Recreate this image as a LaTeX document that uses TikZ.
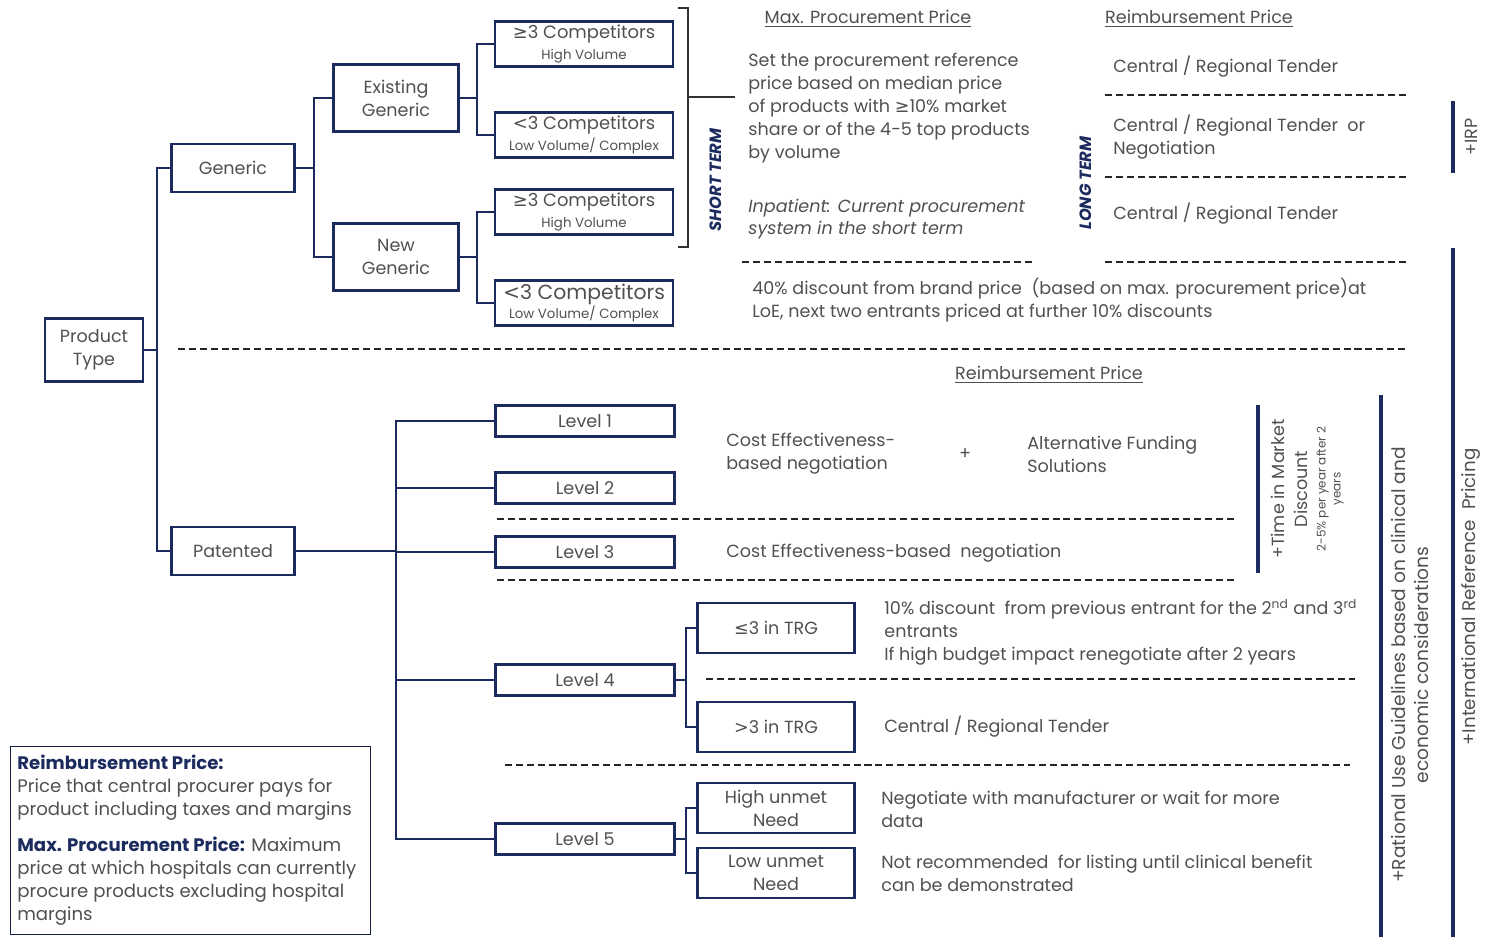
\documentclass[tikz,border=0pt]{standalone}
\usepackage{fontspec}
\setmainfont{Poppins}
\newfontfamily\symfont{DejaVu Sans}
\usetikzlibrary{positioning}
\definecolor{navy}{HTML}{1C2B5E}
\definecolor{ink}{HTML}{505050}
\newcommand{\symge}{{\symfont ≥}}
\newcommand{\symle}{{\symfont ≤}}
\newcommand{\symlt}{{\symfont <}}

\begin{document}
\begin{tikzpicture}[
    x=0.02cm, y=-0.02cm,
    every node/.style={font=\fontsize{10}{13}\selectfont, text=ink, inner sep=0pt},
    box/.style={
        draw=navy,
        line width=1.3pt,
        fill=white,
        align=center
    },
    compbox/.style={box, minimum width=3.56cm, minimum height=0.9cm},
    levelbox/.style={box, minimum width=3.58cm, minimum height=0.62cm},
    subbox/.style={box, minimum width=3.14cm, minimum height=0.99cm},
    tree/.style={draw=navy, line width=1.1pt},
    divider/.style={draw=black!85, line width=1.1pt, dash pattern=on 4pt off 2.2pt},
    bar/.style={draw=navy, line width=2pt},
    txt/.style={anchor=west, align=left},
    tiny/.style={font=\fontsize{6.8}{8.5}\selectfont},
    termlabel/.style={rotate=90, text=navy, font=\bfseries\itshape\fontsize{9.3}{10}\selectfont}
]
\useasboundingbox (0,0) rectangle (1486,937);

\node[box, minimum width=1.96cm, minimum height=1.26cm] (prodtype) at (94,350) {Product\\Type};
\node[box, minimum width=2.46cm, minimum height=0.96cm] (generic) at (233,168) {Generic};
\node[box, minimum width=2.46cm, minimum height=0.96cm] (patented) at (233,551) {Patented};
\node[box, minimum width=2.5cm, minimum height=1.34cm] (existing) at (396,98) {Existing\\Generic};
\node[box, minimum width=2.5cm, minimum height=1.34cm] (newgen) at (396,257) {New\\Generic};

\node[compbox] (exhigh) at (584,44) {{\fontsize{10.2}{11}\selectfont\symge3 Competitors}\\[-1.5pt]{\fontsize{7.6}{8}\selectfont High Volume}};
\node[compbox] (exlow) at (584,135) {{\fontsize{10.2}{11}\selectfont\symlt3 Competitors}\\[-1.5pt]{\fontsize{7.6}{8}\selectfont Low Volume/ Complex}};
\node[compbox] (nwhigh) at (584,212) {{\fontsize{10.2}{11}\selectfont\symge3 Competitors}\\[-1.5pt]{\fontsize{7.6}{8}\selectfont High Volume}};
\node[compbox] (nwlow) at (584,303) {{\fontsize{11.6}{12}\selectfont\symlt3 Competitors}\\[-2pt]{\fontsize{7.6}{8}\selectfont Low Volume/ Complex}};

\node[levelbox] (lvl1) at (585,421) {Level 1};
\node[levelbox] (lvl2) at (585,488) {Level 2};
\node[levelbox] (lvl3) at (585,552) {Level 3};
\node[levelbox] (lvl4) at (585,680) {Level 4};
\node[levelbox] (lvl5) at (585,839) {Level 5};

\node[subbox] (leqtrg) at (776,628) {\symle3 in TRG};
\node[subbox] (gttrg) at (776,727) {{\symfont >}3 in TRG};
\node[subbox] (highneed) at (776,808) {High unmet\\Need};
\node[subbox] (lowneed) at (776,873) {Low unmet\\Need};

\coordinate (ptrunk) at (157,350);
\coordinate (gtrunk) at (314,168);
\coordinate (etrunk) at (477,98);
\coordinate (ntrunk) at (477,257);
\coordinate (ltrunk) at (396,551);
\coordinate (l4trunk) at (686,680);
\coordinate (l5trunk) at (686,839);

\draw[tree] (prodtype.east) -- (ptrunk);
\draw[tree] (generic.west) -| (ptrunk) |- (patented.west);
\draw[tree] (generic.east) -- (gtrunk);
\draw[tree] (existing.west) -| (gtrunk) |- (newgen.west);
\draw[tree] (existing.east) -- (etrunk);
\draw[tree] (exhigh.west) -| (etrunk) |- (exlow.west);
\draw[tree] (newgen.east) -- (ntrunk);
\draw[tree] (nwhigh.west) -| (ntrunk) |- (nwlow.west);
\draw[tree] (patented.east) -- (ltrunk);
\draw[tree] (lvl1.west) -| (ltrunk) |- (lvl5.west);
\foreach \lv in {lvl2,lvl3,lvl4}
    \draw[tree] (\lv.west) -- (\lv.west -| ltrunk);
\draw[tree] (lvl4.east) -- (l4trunk);
\draw[tree] (leqtrg.west) -| (l4trunk) |- (gttrg.west);
\draw[tree] (lvl5.east) -- (l5trunk);
\draw[tree] (highneed.west) -| (l5trunk) |- (lowneed.west);

\coordinate (brtop) at (678,8);
\coordinate (brbot) at (678,247);
\coordinate (brmid) at (688,97);
\draw[line width=0.6pt, draw=black!80] (brtop) -- ++(10,0) -- (688,247) -- (brbot);
\draw[line width=0.6pt, draw=black!80] (brmid) -- ++(47,0);

\node[termlabel] (shortterm) at (716,180) {SHORT TERM};
\node[termlabel] (longterm) at (1086,183) {LONG TERM};

\node (mpphead) at (868,19) {\underline{Max. Procurement Price}};
\node (rphead) at (1199,19) {\underline{Reimbursement Price}};
\node (rphead2) at (1049,375) {\underline{Reimbursement Price}};

\node[txt] (medianprice) at (748,108) {Set the procurement reference\\price based on median price\\of products with \symge10\% market\\share or of the 4-5 top products\\by volume};
\node[txt, font=\itshape\fontsize{10}{13}\selectfont] (inpatient) at (748,219) {Inpatient: Current procurement\\system in the short term};
\draw[divider] (742,262) -- (1033,262);

\node[txt] (tender1) at (1113,67) {Central / Regional Tender};
\draw[divider] (1105,95) -- (1408,95);
\node[txt] (tender2) at (1113,137) {Central / Regional Tender\ \ or\\Negotiation};
\draw[divider] (1105,177) -- (1408,177);
\node[txt] (tender3) at (1113,214) {Central / Regional Tender};
\draw[divider] (1105,262) -- (1408,262);

\node[txt] (brandprice) at (752,300) {40\% discount from brand price\ \ (based on max. procurement price)at\\LoE, next two entrants priced at further 10\% discounts};
\draw[divider] (178,349) -- (1408,349);

\node[txt] (cenego) at (726,454) {Cost Effectiveness-\\based negotiation};
\node (plus) at (965,454) {+};
\node[txt] (altfund) at (1027,454) {Alternative Funding\\Solutions};
\draw[divider] (497,519) -- (1236,519);
\node[txt] (cenego3) at (726,553) {Cost Effectiveness-based\ \ negotiation};
\draw[divider] (497,580) -- (1236,580);

\node[txt] (entrants) at (884,632) {10\% discount\ \ from previous entrant for the 2\textsuperscript{nd} and 3\textsuperscript{rd}\\entrants\\If high budget impact renegotiate after 2 years};
\draw[divider] (706,679) -- (1355,679);
\node[txt] (tender4) at (884,727) {Central / Regional Tender};
\draw[divider] (505,765) -- (1350,765);
\node[txt] (negotiate) at (881,809) {Negotiate with manufacturer or wait for more\\data};
\node[txt] (notrec) at (881,873) {Not recommended\ \ for listing until clinical benefit\\can be demonstrated};

\draw[bar] (1258,405) -- (1258,573);
\draw[bar] (1381,395) -- (1381,937);
\draw[bar] (1453,101) -- (1453,173);
\draw[bar] (1453,248) -- (1453,937);

\node[rotate=90, align=center] (timemarket) at (1289,489) {+Time in Market\\Discount};
\node[rotate=90, align=center, tiny] (timesub) at (1330,489) {2-5\% per year after 2\\years};
\node[rotate=90, align=center, font=\fontsize{10.6}{13}\selectfont] (rational) at (1410,665) {+Rational Use Guidelines based on clinical and\\economic considerations};
\node[rotate=90] (irp) at (1471,137) {+IRP};
\node[rotate=90, font=\fontsize{10.4}{13}\selectfont] (intref) at (1471,597) {+International Reference\ \ Pricing};

\node[draw=navy!70!black, line width=0.7pt, anchor=north west, minimum width=7.2cm, minimum height=3.76cm] (legendbox) at (10,746) {};
\node[anchor=north west, align=left, font=\fontsize{10.3}{13}\selectfont] (legendtxt) at (17,755) {{\bfseries\color{navy}Reimbursement Price:}\\Price that central procurer pays for\\product including taxes and margins\\[7.5pt]{\bfseries\color{navy}Max. Procurement Price:} Maximum\\price at which hospitals can currently\\procure products excluding hospital\\margins};

\end{tikzpicture}
\end{document}
